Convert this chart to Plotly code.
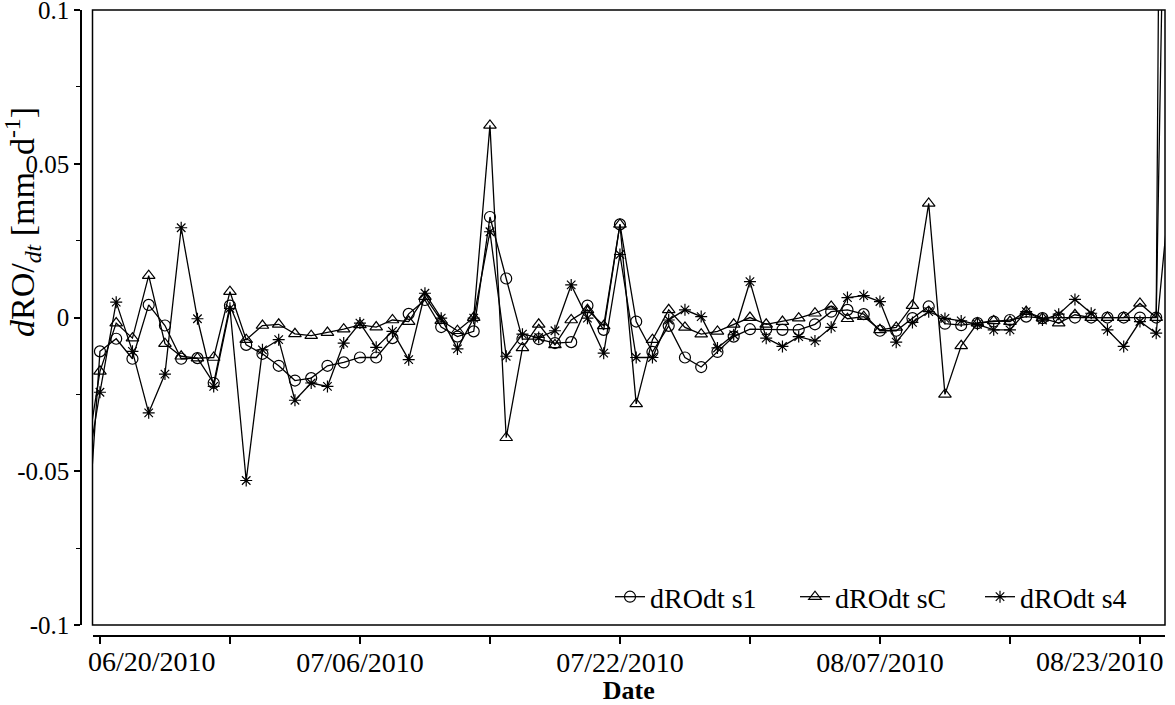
import pandas as pd
import plotly.graph_objects as go

# Daily observations, 19 Jun - 25 Aug 2010
dates = pd.date_range("2010-06-19", "2010-08-25", freq="D")

dROdt_s1 = [
    -0.0900, -0.0110, -0.0069, -0.0134, 0.0041, -0.0026, -0.0134, -0.0132, -0.0213, 0.0039,
    -0.0089, -0.0118, -0.0157, -0.0205, -0.0197, -0.0157, -0.0146, -0.0130, -0.0130, -0.0067,
    0.0012, 0.0057, -0.0031, -0.0062, -0.0045, 0.0327, 0.0127, -0.0070, -0.0070, -0.0083,
    -0.0080, 0.0039, -0.0040, 0.0303, -0.0013, -0.0112, -0.0027, -0.0130, -0.0161, -0.0112,
    -0.0062, -0.0038, -0.0038, -0.0040, -0.0040, -0.0022, 0.0019, 0.0025, 0.0011, -0.0043,
    -0.0043, -0.0002, 0.0036, -0.0020, -0.0025, -0.0018, -0.0013, -0.0008, 0.0003, -0.0002,
    0.0000, 0.0000, 0.0000, 0.0000, 0.0000, 0.0000, 0.0000, 0.7500,
]

dROdt_sC = [
    -0.0510, -0.0175, -0.0018, -0.0067, 0.0136, -0.0085, -0.0126, -0.0132, -0.0130, 0.0084,
    -0.0072, -0.0026, -0.0022, -0.0053, -0.0059, -0.0049, -0.0038, -0.0024, -0.0031, -0.0008,
    -0.0013, 0.0068, -0.0010, -0.0043, 0.0000, 0.0625, -0.0391, -0.0099, -0.0022, -0.0089,
    -0.0008, 0.0025, -0.0027, 0.0303, -0.0281, -0.0072, 0.0025, -0.0032, -0.0054, -0.0045,
    -0.0022, 0.0000, -0.0022, -0.0013, -0.0002, 0.0014, 0.0036, -0.0004, 0.0003, -0.0040,
    -0.0032, 0.0039, 0.0371, -0.0250, -0.0092, -0.0018, -0.0011, -0.0013, 0.0019, -0.0002,
    -0.0018, 0.0009, 0.0000, 0.0000, 0.0000, 0.0046, 0.0000, 0.3000,
]

dROdt_s4 = [
    -0.0560, -0.0243, 0.0050, -0.0110, -0.0310, -0.0184, 0.0292, -0.0004, -0.0224, 0.0030,
    -0.0530, -0.0105, -0.0072, -0.0269, -0.0213, -0.0224, -0.0083, -0.0018, -0.0097, -0.0045,
    -0.0137, 0.0079, -0.0002, -0.0102, -0.0002, 0.0279, -0.0126, -0.0054, -0.0065, -0.0043,
    0.0106, -0.0002, -0.0116, 0.0205, -0.0130, -0.0130, -0.0008, 0.0025, 0.0003, -0.0099,
    -0.0056, 0.0117, -0.0067, -0.0094, -0.0062, -0.0076, -0.0032, 0.0065, 0.0071, 0.0052,
    -0.0080, -0.0016, 0.0019, -0.0003, -0.0011, -0.0022, -0.0040, -0.0040, 0.0019, -0.0008,
    0.0011, 0.0059, 0.0014, -0.0040, -0.0094, -0.0013, -0.0051, 0.0500,
]

series_names = ["dROdt s1", "dROdt sC", "dROdt s4"]
series_values = [dROdt_s1, dROdt_sC, dROdt_s4]
series_symbols = ["circle-open", "triangle-up-open", "asterisk-open"]
series_sizes = [11, 11, 10]

# x axis: ticks every 8 days, labels every 16 days
tick_dates = ["2010-06-20", "2010-06-28", "2010-07-06", "2010-07-14", "2010-07-22",
              "2010-07-30", "2010-08-07", "2010-08-15", "2010-08-23"]
tick_labels = ["06/20/2010", "", "07/06/2010", "", "07/22/2010",
               "", "08/07/2010", "", "08/23/2010"]
x_range = ["2010-06-19 13:00", "2010-08-24 13:00"]

y_tickvals = [-0.1, -0.05, 0, 0.05, 0.1]
y_ticktext = ["-0.1", "-0.05", "0", "0.05", "0.1"]

FONT = "Liberation Serif"
W, H = 1175, 705
ML, MR, MT, MB = 81, 10, 10, 69
PW, PH = W - ML - MR, H - MT - MB

fig = go.Figure()
for name, vals, sym, size in zip(series_names, series_values, series_symbols, series_sizes):
    fig.add_trace(go.Scatter(
        x=dates, y=vals, name=name, mode="lines+markers",
        line=dict(color="black", width=1.3),
        marker=dict(symbol=sym, size=size, color="black", line=dict(color="black", width=1.2)),
    ))

# first and last date labels are kept inside the axis extent
edge_labels = [(tick_dates[0], tick_labels[0], "left", -14),
               (tick_dates[-1], tick_labels[-1], "right", 26)]
center_text = [t if 0 < i < len(tick_labels) - 1 else "" for i, t in enumerate(tick_labels)]

fig.update_layout(
    width=W, height=H,
    margin=dict(l=ML, r=MR, t=MT, b=MB, autoexpand=False),
    paper_bgcolor="white", plot_bgcolor="white",
    font=dict(family=FONT, size=28, color="black"),
    showlegend=True,
    legend=dict(
        orientation="h", x=1.0, xanchor="right",
        y=(H - MB - 597) / PH, yanchor="middle",
        bgcolor="rgba(0,0,0,0)", font=dict(family=FONT, size=28),
        itemwidth=30, tracegroupgap=0,
        entrywidth=140, entrywidthmode="pixels",
    ),
    xaxis=dict(
        type="date", range=x_range, domain=[11.5 / PW, 1],
        anchor="free", position=0, automargin=False,
        tickvals=tick_dates, ticktext=center_text,
        ticks="outside", ticklen=7, tickwidth=1.5, tickcolor="black",
        ticklabeloverflow="allow", ticklabelstandoff=-5,
        showline=True, linecolor="black", linewidth=1.5,
        showgrid=False, zeroline=False,
        tickfont=dict(family=FONT, size=28),
        title=dict(text="<b>Date</b>", font=dict(family=FONT, size=26), standoff=10),
    ),
    yaxis=dict(
        range=[-0.1, 0.10002], domain=[11 / PH, 1],
        anchor="free", position=0, automargin=False,
        tickvals=y_tickvals, ticktext=y_ticktext,
        ticks="outside", ticklen=6, tickwidth=1.5, tickcolor="black",
        ticklabeloverflow="allow",
        minor=dict(dtick=0.025, tick0=0, ticks="outside", ticklen=4, tickwidth=1, tickcolor="black"),
        showline=True, linecolor="black", linewidth=1.5,
        showgrid=False, zeroline=False,
        tickfont=dict(family=FONT, size=25),
    ),
)

# frame around the plotting area
fig.add_shape(type="rect", xref="x domain", yref="y domain", x0=0, x1=1, y0=0, y1=1,
              line=dict(color="black", width=1.5), fillcolor="rgba(0,0,0,0)", layer="above")

for d, txt, anchor, shift in edge_labels:
    fig.add_annotation(x=d, xref="x", y=0, yref="paper", text=txt, showarrow=False,
                       xanchor=anchor, yanchor="top", xshift=shift, yshift=-8,
                       font=dict(family=FONT, size=28, color="black"))

# y-axis title
fig.add_annotation(
    text="<i>d</i>RO/<sub><i>dt</i></sub>\u00a0[mm\u00a0\u00a0d<sup>-1</sup>]",
    xref="paper", yref="paper", x=(23 - ML) / PW, y=(H - MB - 222) / PH,
    textangle=-90, showarrow=False, xanchor="center", yanchor="middle",
    font=dict(family=FONT, size=34, color="black"),
)

fig.write_html("out.html")
